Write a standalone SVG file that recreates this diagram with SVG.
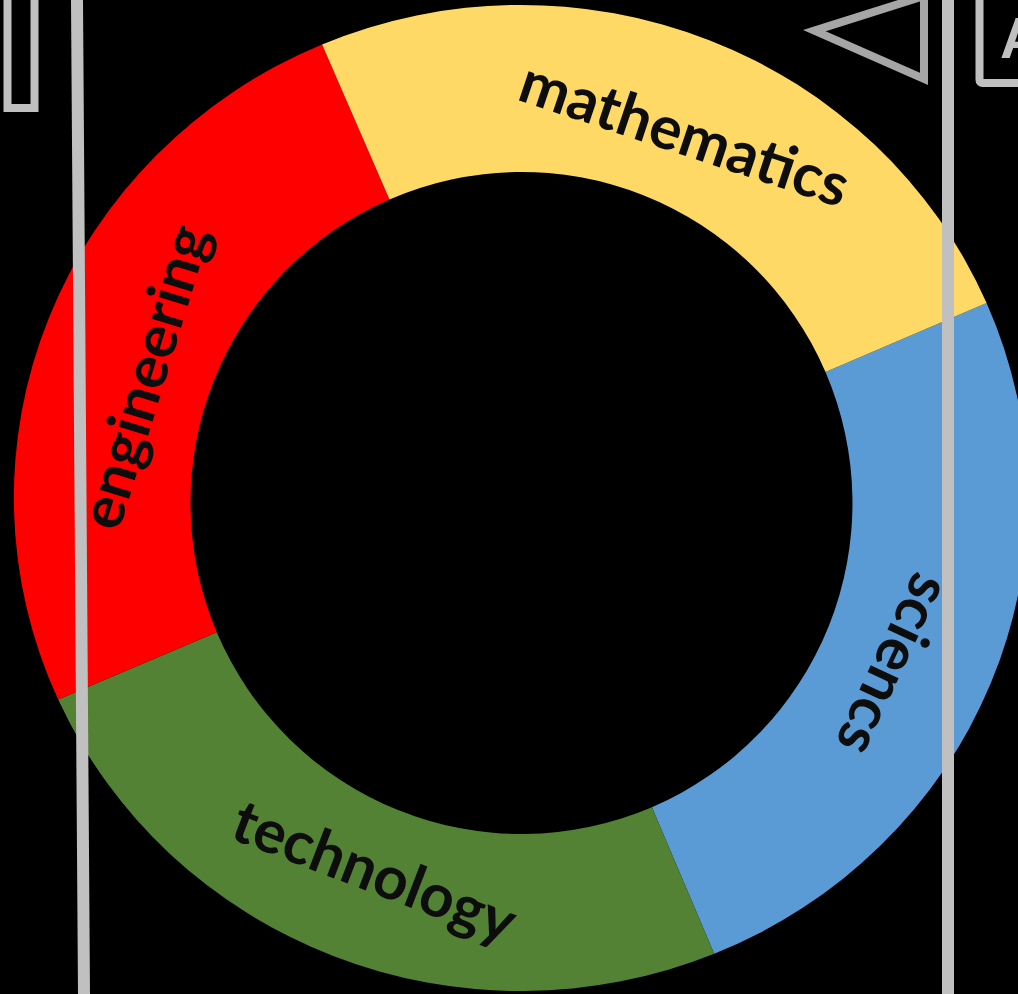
<svg xmlns="http://www.w3.org/2000/svg" width="1018" height="994" viewBox="0 0 1018 994">
  <style>
    .lbl { font-family: Lato, "Open Sans", "Liberation Sans", sans-serif; font-weight: 700; font-size: 60px; fill: #0d0d0d; text-anchor: middle; }
    .bar { fill: #c0c0c0; }
    .frame { fill: none; stroke: #c0c0c0; stroke-width: 8; }
  </style>
  <rect id="background" x="0" y="0" width="1018" height="994" fill="#000000"/>

  <g id="ring">
    <g id="node-sciencs">
      <path d="M986.6,303 A507,493 0 0 1 714.2,953.8 L651.9,807.2 A331,331 0 0 0 825.5,372.1 Z" fill="#5b9bd5"/>
      <text class="lbl" transform="translate(875,656) rotate(115)">sciencs</text>
    </g>
    <g id="node-technology">
      <path d="M714.2,953.8 A507,493 0 0 1 58.2,699.6 L216.8,632.3 A331,331 0 0 0 651.9,807.2 Z" fill="#548235"/>
      <text class="lbl" transform="translate(367,891) rotate(21)">technology</text>
    </g>
    <g id="node-engineering">
      <path d="M58.2,699.6 A507,493 0 0 1 322.1,44.4 L389.5,199.4 A331,331 0 0 0 216.8,632.3 Z" fill="#ff0000"/>
      <text class="lbl" transform="translate(164.4,382.7) rotate(-73)">engineering</text>
    </g>
    <g id="node-mathematics">
      <path d="M322.1,44.4 A507,493 0 0 1 986.6,303 L825.5,372.1 A331,331 0 0 0 389.5,199.4 Z" fill="#ffd966"/>
      <text class="lbl" transform="translate(678,153.5) rotate(18.5)">mathematics</text>
    </g>
  </g>

  <g id="connectors"></g>

  <g id="overlay">
    <rect class="frame" x="7.5" y="-20" width="27" height="128"/>
    <polygon class="bar" points="71,0 83,0 90,994 78,994"/>
    <rect class="bar" x="942" y="0" width="12" height="994"/>
    <polygon points="814.4,30.6 924,-4 924,78.8" fill="none" stroke="#a6a6a6" stroke-width="8" stroke-linejoin="miter"/>
    <rect class="frame" x="979.5" y="-20" width="60" height="103" rx="3"/>
    <text x="1000" y="58" font-family="'Liberation Sans', Arial, sans-serif" font-weight="700" font-size="57" fill="#c0c0c0">A</text>
  </g>
</svg>
